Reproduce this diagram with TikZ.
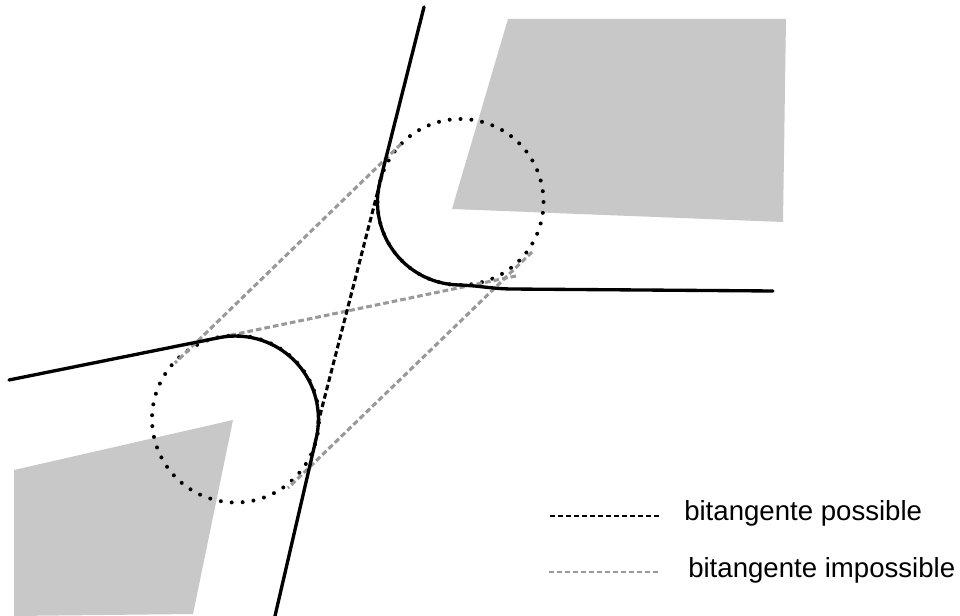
\documentclass[tikz,border=0pt]{standalone}
\usepackage{fontspec}
\setmainfont{Liberation Sans}
\definecolor{polygrey}{HTML}{C8C8C8}
\definecolor{dashgrey}{HTML}{999999}
\tikzset{
  polyshape/.style={fill=polygrey,draw=none},
  dotmark/.style={fill=black,draw=none},
  trajectory/.style={draw=black,line width=2.5pt,line cap=round,line join=round},
  possibleline/.style={draw=black,line width=2.3pt,dash pattern=on 4.2pt off 2.3pt},
  impossibleline/.style={draw=dashgrey,line width=2.3pt,dash pattern=on 4.2pt off 2.3pt},
  legendblack/.style={draw=black,line width=1.9pt,dash pattern=on 4pt off 2pt},
  legendgrey/.style={draw=dashgrey,line width=1.9pt,dash pattern=on 4pt off 2pt},
  legendtext/.style={anchor=base west,inner sep=0pt,font=\fontsize{20.7pt}{23pt}\selectfont}
}
\begin{document}
\begin{tikzpicture}[x=0.75pt,y=-0.75pt]
\useasboundingbox (0,0) rectangle (960,616);
\fill[white] (0,0) rectangle (960,616);
\path[polyshape] (508,19) -- (786,19) -- (783,222) -- (452,209) -- cycle;
\path[polyshape] (233,420) -- (14,470) -- (14,616) -- (193,614) -- cycle;
\foreach \k in {0,...,47}{
  \fill[dotmark] ({460.5+83*cos(270+7.5*\k)},{202+83*sin(270+7.5*\k)}) circle[radius=2];
  \fill[dotmark] ({235.5+83.5*cos(92.6+7.5*\k)},{419+83.5*sin(92.6+7.5*\k)}) circle[radius=2];
}
\coordinate (a1) at (401,144);
\coordinate (a2) at (175,363);
\coordinate (b1) at (516,276);
\coordinate (b2) at (193,343);
\coordinate (d1) at (532,252);
\coordinate (d2) at (288,488);
\coordinate (e1) at (382,175);
\coordinate (e2) at (317,427);
\draw[impossibleline] (a1) -- (a2);
\draw[impossibleline] (b1) -- (b2);
\draw[impossibleline] (d1) -- (d2);
\draw[possibleline] (e1) -- (e2);
\coordinate (p1) at (424,7);
\coordinate (p2) at (773,291);
\coordinate (q1) at (9,380);
\coordinate (q2) at (275,616);
\draw[trajectory] (p1) -- (379.8,182.4) arc[start angle=193.65,end angle=92,radius=83] .. controls (478,285.5) and (490,288.5) .. (510,289) -- (p2);
\draw[trajectory] (q1) -- (218.9,337.7) arc[start angle=258.5,end angle=373,radius=83] -- (q2);
\coordinate (l1) at (550,516);
\coordinate (l2) at (661,516);
\coordinate (l3) at (549,572);
\coordinate (l4) at (661,572);
\draw[legendblack] (l1) -- (l2);
\draw[legendgrey] (l3) -- (l4);
\node[legendtext] (t1) at (684,520) {bitangente possible};
\node[legendtext] (t2) at (688,577) {bitangente impossible};
\end{tikzpicture}
\end{document}
